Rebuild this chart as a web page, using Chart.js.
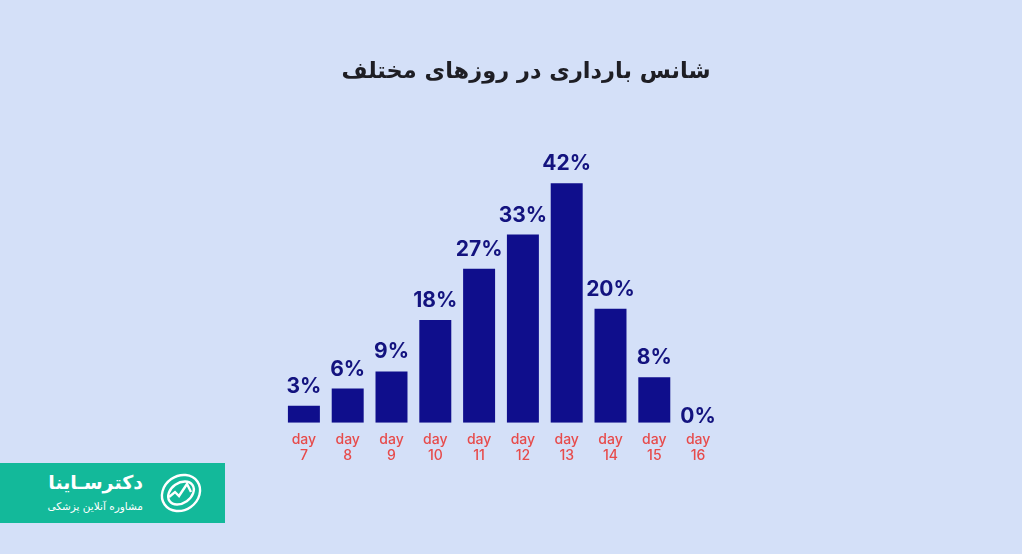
<!DOCTYPE html>
<html>
<head>
<meta charset="utf-8">
<script src="https://cdn.jsdelivr.net/npm/chart.js@4"></script>
<style>
  html, body { margin:0; padding:0; background:#d4e0f8; width:1022px; height:554px; overflow:hidden; }
  #wrap { position:absolute; left:0; top:0; width:1022px; height:554px; }
  #title { position:absolute; left:0; width:1052px; top:57px; text-align:center; direction:rtl;
           font-family:"DejaVu Sans", "Noto Sans", sans-serif; font-weight:bold; font-size:22.5px; color:#1e1e24; }
  #logo { position:absolute; left:0; top:463px; width:225px; height:60px; background:#13b99a; }
  #logo .name { position:absolute; right:82px; top:8px; color:#fff; font-family:"DejaVu Sans", sans-serif; font-weight:bold; font-size:19px; direction:rtl; }
  #logo .sub { position:absolute; right:82px; top:37px; color:#fff; font-family:"DejaVu Sans", sans-serif; font-size:10.5px; direction:rtl; }
  #logo svg { position:absolute; left:157px; top:7px; }
</style>
</head>
<body>
<div id="wrap"><canvas id="c" width="1022" height="554"></canvas></div>
<div id="title">شانس بارداری در روزهای مختلف</div>
<div id="logo">
  <div class="name">دکترسـاینا</div>
  <div class="sub">مشاوره آنلاین پزشکی</div>
  <svg width="48" height="46" viewBox="0 0 48 46">
    <g fill="none" stroke="#fff" stroke-width="2.4">
      <ellipse cx="24" cy="23" rx="20" ry="17" transform="rotate(-35 24 23)"/>
      <ellipse cx="24" cy="23" rx="14" ry="10" transform="rotate(-35 24 23)"/>
      <path d="M12 27 L18 22 L22 26 L30 14 L34 22"/>
    </g>
  </svg>
</div>
<script>
const categories = ['7','8','9','10','11','12','13','14','15','16'];
const tickLabels = categories.map(d => ['day', d]);
const chancePercent = [3, 6, 9, 18, 27, 33, 42, 20, 8, 0];

const labelPlugin = {
  id: 'barLabels',
  afterDatasetsDraw(chart) {
    const ctx = chart.ctx;
    const meta = chart.getDatasetMeta(0);
    ctx.save();
    ctx.font = '700 21px Inter, "Liberation Sans", sans-serif';
    ctx.fillStyle = '#13137f';
    ctx.textAlign = 'center';
    ctx.textBaseline = 'alphabetic';
    meta.data.forEach((el, i) => {
      const v = chancePercent[i];
      const off = v > 0 ? 13 : 0;
      ctx.fillText(v + '%', el.x, el.y - off);
    });
    ctx.restore();
  }
};

new Chart(document.getElementById('c'), {
  type: 'bar',
  data: {
    labels: tickLabels,
    datasets: [{
      data: chancePercent,
      backgroundColor: '#0f0e8c',
      borderWidth: 0,
      categoryPercentage: 1,
      barPercentage: 0.73
    }]
  },
  options: {
    responsive: false,
    animation: false,
    layout: { padding: { left: 282, right: 302, top: 137.5, bottom: 81 } },
    plugins: { legend: { display: false }, tooltip: { enabled: false } },
    scales: {
      x: {
        grid: { display: false, drawTicks: false },
        border: { display: false },
        ticks: {
          padding: 9,
          color: '#e74b4b',
          font: { family: 'Inter, "Liberation Sans", sans-serif', size: 14, weight: '500', lineHeight: 1.15 }
        }
      },
      y: {
        display: false,
        min: 0,
        max: 50
      }
    }
  },
  plugins: [labelPlugin]
});
</script>
</body>
</html>
